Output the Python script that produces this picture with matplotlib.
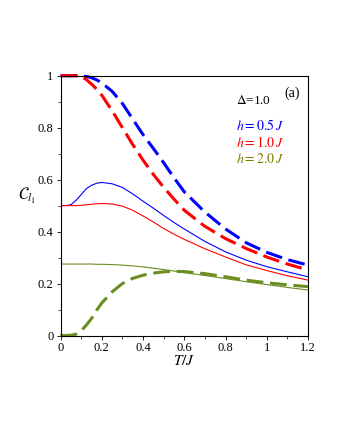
import numpy as np
import matplotlib
matplotlib.use("Agg")
import matplotlib.pyplot as plt

plt.rcParams['font.family'] = 'Liberation Serif'
plt.rcParams['mathtext.fontset'] = 'stix'

# values (T/J grid)
T = [0, 0.025, 0.05, 0.075, 0.1, 0.125, 0.15, 0.175, 0.2, 0.25, 0.3, 0.35, 0.4,
     0.45, 0.5, 0.55, 0.6, 0.7, 0.8, 0.9, 1.0, 1.1, 1.2]

blue_dash = [1.0, 1.0, 1.0, 1.0, 1.0, 0.997, 0.992, 0.984, 0.972, 0.94, 0.893, 0.833, 0.773,
             0.72, 0.665, 0.607, 0.553, 0.475, 0.41, 0.357, 0.32, 0.292, 0.271]
red_dash = [1.0, 1.0, 1.0, 1.0, 0.997, 0.985, 0.968, 0.948, 0.925, 0.865, 0.8, 0.735, 0.675,
            0.62, 0.57, 0.525, 0.482, 0.42, 0.373, 0.335, 0.302, 0.275, 0.252]
green_dash = [0.0, 0.0, 0.001, 0.005, 0.018, 0.04, 0.065, 0.097, 0.125, 0.168, 0.2, 0.22, 0.232,
              0.24, 0.245, 0.247, 0.246, 0.238, 0.226, 0.213, 0.203, 0.195, 0.188]

blue_solid = [0.5, 0.5, 0.503, 0.52, 0.542, 0.565, 0.578, 0.586, 0.589, 0.584, 0.57, 0.545, 0.517,
              0.49, 0.462, 0.435, 0.41, 0.362, 0.322, 0.29, 0.265, 0.245, 0.226]
red_solid = [0.5, 0.5, 0.5, 0.5, 0.501, 0.503, 0.505, 0.507, 0.508, 0.506, 0.498, 0.482, 0.46,
             0.437, 0.412, 0.39, 0.37, 0.334, 0.302, 0.272, 0.25, 0.23, 0.213]
green_solid = [0.275, 0.275, 0.275, 0.275, 0.275, 0.275, 0.275, 0.274, 0.274, 0.273, 0.271, 0.268, 0.264,
               0.259, 0.254, 0.248, 0.242, 0.231, 0.219, 0.207, 0.196, 0.185, 0.175]

labels = [r'$h=0.5\,J$', r'$h=1.0\,J$', r'$h=2.0\,J$']

fig = plt.figure(figsize=(3.4, 4.4), dpi=100)
ax = fig.add_axes([0.178, 0.2375, 0.728, 0.5905])

dash = (5.5, 2.2)
ax.plot(T, blue_dash, color='#0000ff', lw=2.2, dashes=dash, clip_on=False)
ax.plot(T, red_dash, color='#ff0000', lw=2.2, dashes=dash, clip_on=False)
ax.plot(T, green_dash, color='#6b8e23', lw=2.2, dashes=dash, clip_on=False)
ax.plot(T, blue_solid, color='#0000ff', lw=0.8)
ax.plot(T, red_solid, color='#ff0000', lw=0.8)
ax.plot(T, green_solid, color='#6b8e23', lw=0.8)

ax.set_xlim(0, 1.2)
ax.set_ylim(0, 1)
ax.set_xticks([0, 0.2, 0.4, 0.6, 0.8, 1, 1.2])
ax.set_xticklabels(['0', '0.2', '0.4', '0.6', '0.8', '1', '1.2'])
ax.set_yticks([0, 0.2, 0.4, 0.6, 0.8, 1])
ax.set_yticklabels(['0', '0.2', '0.4', '0.6', '0.8', '1'])
ax.set_xticks(np.arange(0.1, 1.2, 0.2), minor=True)
ax.set_yticks(np.arange(0.1, 1.0, 0.2), minor=True)
ax.tick_params(which='major', length=3, width=0.6, labelsize=9, pad=2)
ax.tick_params(which='minor', length=2, width=0.5)
for s in ax.spines.values():
    s.set_linewidth(0.8)

ax.set_xlabel(r'$T/J$', fontsize=11, labelpad=0)
ax.set_ylabel(r'$\mathcal{C}_{l_1}$', fontsize=12, rotation=0, labelpad=8)

ax.text(0.965, 0.96, '(a)', transform=ax.transAxes, fontsize=10, ha='right', va='top')
ax.text(0.71, 0.905, r'$\Delta$=1.0', transform=ax.transAxes, fontsize=9.5, ha='left', va='center')
for i, (lab, c) in enumerate(zip(labels, ['#0000ff', '#ff0000', '#808000'])):
    ax.text(0.71, 0.81 - i * 0.066, lab, transform=ax.transAxes, fontsize=10,
            color=c, ha='left', va='center')

fig.savefig('out.png', dpi=100)
